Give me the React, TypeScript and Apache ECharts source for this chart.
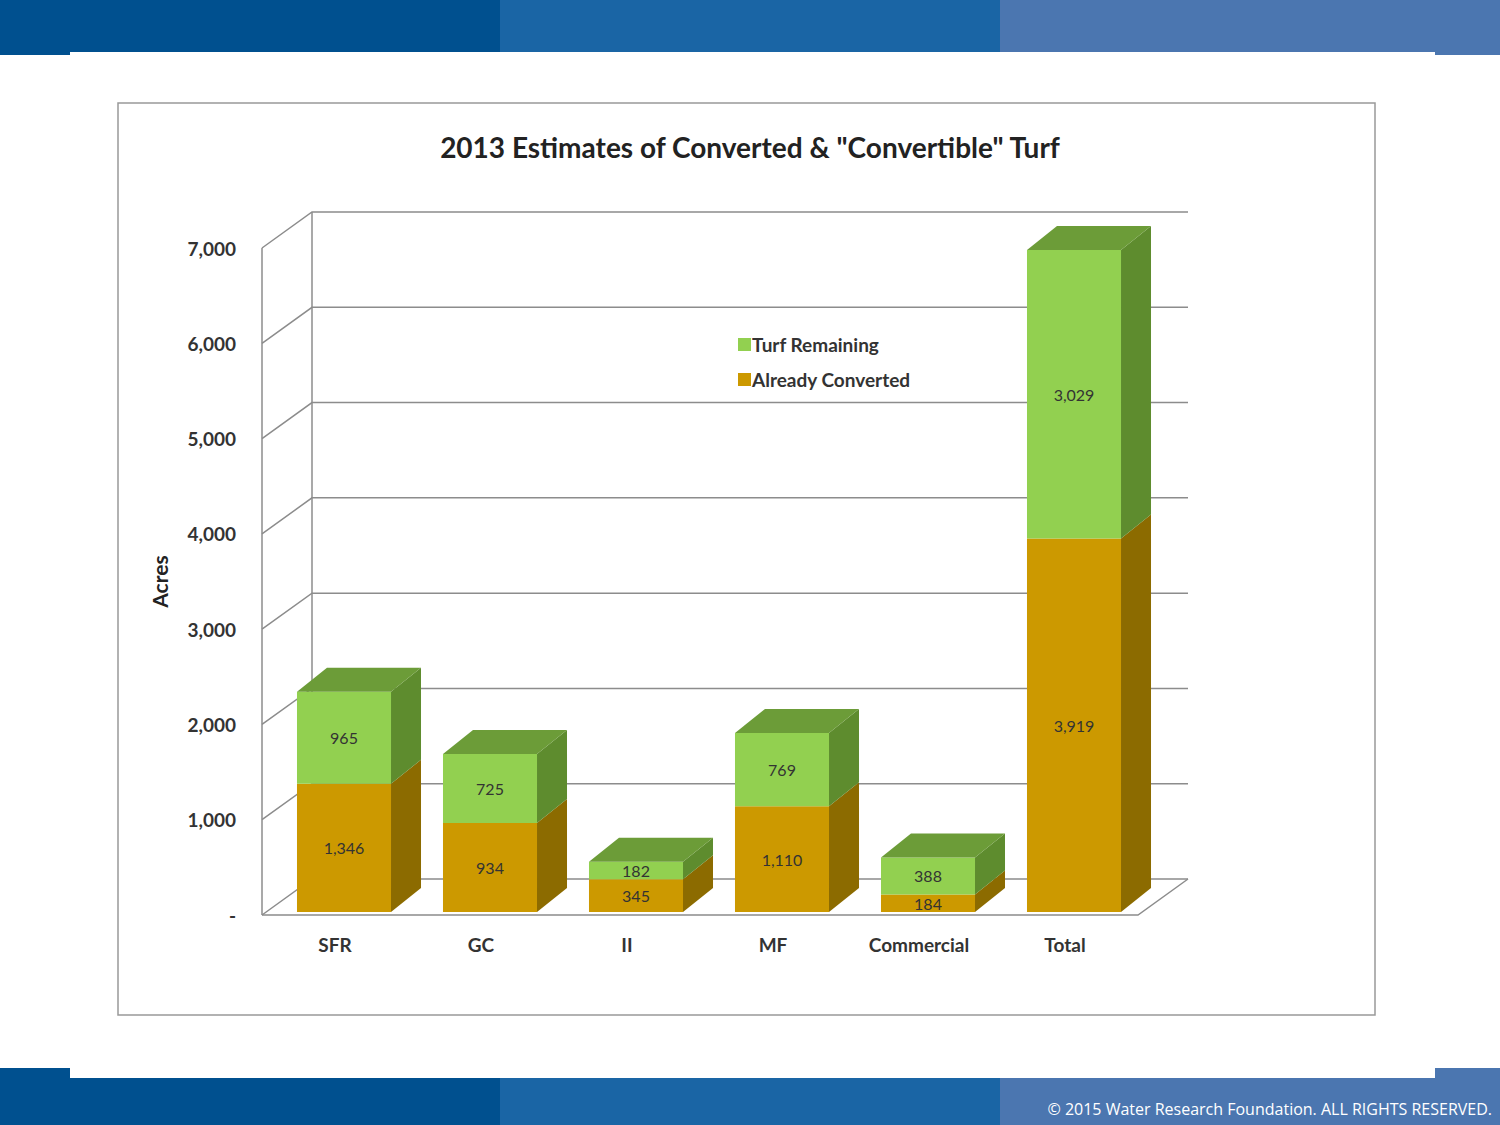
import React, { useEffect, useRef } from "react";
import * as echarts from "echarts";

const categories = ["SFR", "GC", "II", "MF", "Commercial", "Total"];
const converted = [1346, 934, 345, 1110, 184, 3919];
const remaining = [965, 725, 182, 769, 388, 3029];
const yTicks = [0, 1000, 2000, 3000, 4000, 5000, 6000, 7000];

const DX = 30, DY = -24, WALLX = 50, WALLY = -36;
const FONT = "Lato, 'Open Sans', sans-serif";

function fmt(v: number) {
  return v.toLocaleString("en-US");
}

function box(api: any, i: number, lo: number, hi: number, front: string, side: string, top: string | null) {
  const bw = api.size([1, 0])[0] * 0.644;
  const cx = api.coord([i, 0])[0] + 9;
  const x0 = cx - bw / 2, x1 = cx + bw / 2;
  const yb = api.coord([i, lo])[1] - 3;
  const yt = api.coord([i, hi])[1] - 3;
  const ch: any[] = [
    { type: "polygon", shape: { points: [[x1, yb], [x1 + DX, yb + DY], [x1 + DX, yt + DY], [x1, yt]] }, style: { fill: side } },
    { type: "rect", shape: { x: x0, y: yt, width: bw, height: yb - yt }, style: { fill: front } },
  ];
  if (top) ch.push({ type: "polygon", shape: { points: [[x0, yt], [x0 + DX, yt + DY], [x1 + DX, yt + DY], [x1, yt]] }, style: { fill: top } });
  ch.push({ type: "text", x: cx, y: (yb + yt) / 2, style: { text: fmt(hi - lo), align: "center", verticalAlign: "middle", fontSize: 16, fontFamily: FONT, fill: "#333" } });
  return { type: "group", children: ch };
}

export default function App() {
  const ref = useRef<HTMLDivElement>(null);
  useEffect(() => {
    document.body.style.margin = "0";
    const chart = echarts.init(ref.current!, null, { renderer: "svg" });
    const gridColor = "#8c8c8c";
    chart.setOption({
      animation: false,
      backgroundColor: "#fff",
      title: {
        text: '2013 Estimates of Converted & "Convertible" Turf',
        left: 745, top: 128, textAlign: "center",
        textStyle: { fontSize: 28, fontWeight: "bold", fontFamily: FONT, color: "#222" },
      },
      legend: {
        orient: "vertical", left: 733, top: 330, itemGap: 16, itemWidth: 13, itemHeight: 13, icon: "rect",
        data: ["Turf Remaining", "Already Converted"],
        textStyle: { fontSize: 19, fontWeight: "bold", fontFamily: FONT, color: "#333", padding: [0, 0, 0, -4] },
      },
      grid: { left: 262, right: 362, top: 248, bottom: 210 },
      xAxis: {
        type: "category", data: categories,
        axisLine: { show: false }, axisTick: { show: false },
        axisLabel: { margin: 20, fontSize: 19, fontWeight: "bold", fontFamily: FONT, color: "#333" },
      },
      yAxis: {
        type: "value", min: 0, max: 7000, interval: 1000,
        name: "Acres", nameLocation: "middle", nameGap: 92, nameRotate: 90,
        nameTextStyle: { fontSize: 21, fontWeight: "bold", fontFamily: FONT, color: "#222" },
        splitLine: { show: false }, axisLine: { show: false }, axisTick: { show: false },
        axisLabel: { margin: 26, fontSize: 19, fontWeight: "bold", fontFamily: FONT, color: "#333",
          formatter: (v: number) => (v === 0 ? "-" : fmt(v)) },
      },
      graphic: [
        { type: "rect", shape: { x: 0, y: 0, width: 1500, height: 55 }, style: { fill: "#00508F" } },
        { type: "rect", shape: { x: 500, y: 0, width: 500, height: 52 }, style: { fill: "#1A65A5" } },
        { type: "rect", shape: { x: 1000, y: 0, width: 500, height: 55 }, style: { fill: "#4B76B0" } },
        { type: "rect", shape: { x: 70, y: 52, width: 1365, height: 4 }, style: { fill: "#fff" } },
        { type: "rect", shape: { x: 0, y: 1068, width: 500, height: 57 }, style: { fill: "#00508F" } },
        { type: "rect", shape: { x: 500, y: 1068, width: 500, height: 57 }, style: { fill: "#1A65A5" } },
        { type: "rect", shape: { x: 1000, y: 1068, width: 500, height: 57 }, style: { fill: "#4B76B0" } },
        { type: "rect", shape: { x: 70, y: 1066, width: 1365, height: 12 }, style: { fill: "#fff" } },
        { type: "rect", shape: { x: 118, y: 103, width: 1257, height: 912 }, style: { fill: "none", stroke: "#999", lineWidth: 1.5 } },
        { type: "text", right: 8, top: 1101, style: { text: "© 2015 Water Research Foundation. ALL RIGHTS RESERVED.", fontSize: 16, fontFamily: "'Open Sans', sans-serif", fill: "#fff" } },
      ],
      series: [
        {
          type: "custom", name: "walls", silent: true, z: 1,
          data: yTicks.map((v) => [0, v]),
          renderItem: (params: any, api: any) => {
            const cs = params.coordSys;
            const v = api.value(1);
            const y = api.coord([0, v])[1];
            const x = cs.x;
            const backR = cs.x + cs.width + WALLX;
            const st = { stroke: gridColor, lineWidth: 1.5 };
            const ch: any[] = [
              { type: "polyline", shape: { points: [[x, y], [x + WALLX, y + WALLY], [backR, y + WALLY]] }, style: { ...st, fill: null } },
            ];
            if (v === 0) {
              ch.push({ type: "polyline", shape: { points: [[x, y], [cs.x + cs.width, y], [backR, y + WALLY]] }, style: { ...st, fill: null } });
              const yTop = api.coord([0, 7000])[1];
              ch.push({ type: "line", shape: { x1: x, y1: y, x2: x, y2: yTop }, style: st });
              ch.push({ type: "line", shape: { x1: x + WALLX, y1: y + WALLY, x2: x + WALLX, y2: yTop + WALLY }, style: st });
            }
            return { type: "group", children: ch };
          },
        },
        {
          type: "custom", name: "Already Converted", z: 2, itemStyle: { color: "#CC9900" },
          data: converted.map((v, i) => [i, v]),
          renderItem: (params: any, api: any) => {
            const i = params.dataIndex;
            return box(api, i, 0, converted[i], "#CC9900", "#8C6B00", null);
          },
        },
        {
          type: "custom", name: "Turf Remaining", z: 3, itemStyle: { color: "#92D050" },
          data: remaining.map((v, i) => [i, converted[i] + v]),
          renderItem: (params: any, api: any) => {
            const i = params.dataIndex;
            return box(api, i, converted[i], converted[i] + remaining[i], "#92D050", "#5E8C2E", "#6C9C38");
          },
        },
      ],
    });
    return () => chart.dispose();
  }, []);
  return <div ref={ref} style={{ width: 1500, height: 1125 }} />;
}
